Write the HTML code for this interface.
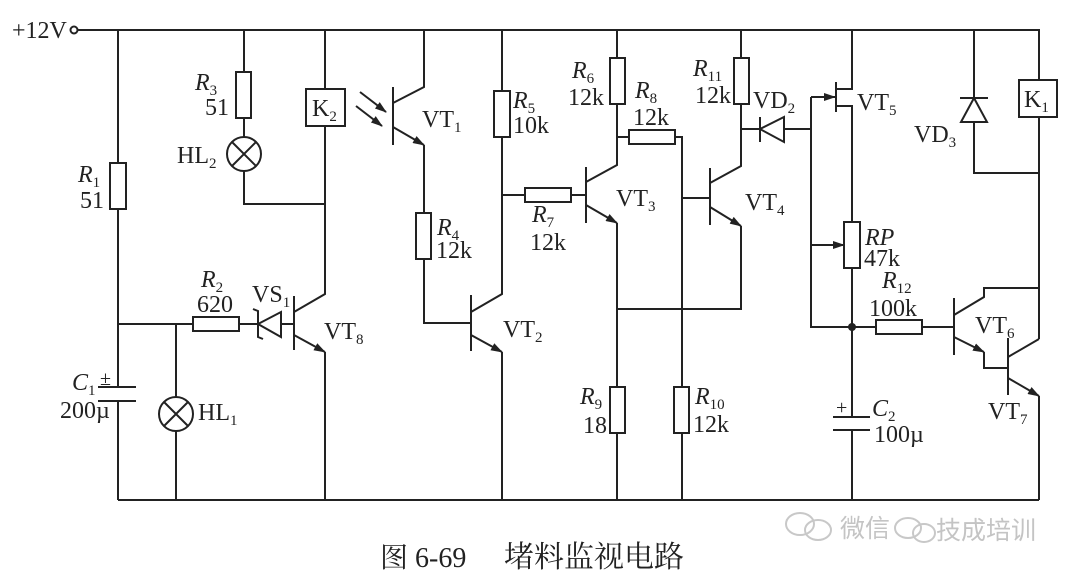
<!DOCTYPE html>
<html><head><meta charset="utf-8"><style>
html,body{margin:0;padding:0;background:#fff}
svg{display:block}
text{font-family:"Liberation Serif","Noto Serif CJK SC",serif;font-size:24px;fill:#222}
.s{font-size:15px}
.cn{font-family:"Liberation Serif","Noto Serif CJK SC","Noto Sans CJK SC",serif;font-size:28px}
.wm{font-family:"Liberation Sans","Noto Sans CJK SC",sans-serif;font-size:25px;fill:#c4c4c4}
</style></head><body>
<svg width="1080" height="574" viewBox="0 0 1080 574" xmlns="http://www.w3.org/2000/svg">
<defs>
<marker id="ar" markerWidth="12" markerHeight="8" refX="11" refY="4" orient="auto" markerUnits="userSpaceOnUse"><path d="M0,0 L12,4 L0,8 Z" fill="#222"/></marker>
</defs>
<g stroke="#222" stroke-width="2" fill="none">
<!-- rails -->
<circle cx="74" cy="30" r="3.5"/>
<path d="M78,30 H1039 V80"/>
<path d="M118,500 H1039"/>
<!-- left column -->
<path d="M118,30 V163 M118,209 V387 M118,401 V500"/>
<rect x="110" y="163" width="16" height="46"/>
<path d="M98,387 H136 M98,401 H136"/>
<!-- R2 / HL1 / VS1 -->
<path d="M118,324 H193 M239,324 H258 M281,324 H294"/>
<rect x="193" y="317" width="46" height="14"/>
<path d="M176,324 V397 M176,431 V500"/>
<circle cx="176" cy="414" r="17"/>
<path d="M164,402 L188,426 M188,402 L164,426"/>
<path d="M281,312 V337 L258,324 Z"/>
<path d="M253,309 L258,311 V337 L263,339"/>
<!-- VT8 -->
<path d="M294,296 V350"/>
<path d="M294,312 L325,294 V126"/>
<path d="M294,335 L325,352" marker-end="url(#ar)"/>
<path d="M325,352 V500"/>
<rect x="306" y="89" width="39" height="37"/>
<path d="M325,30 V89"/>
<!-- R3 / HL2 -->
<path d="M244,30 V72 M244,118 V137 M244,171 V204 H325"/>
<rect x="236" y="72" width="15" height="46"/>
<circle cx="244" cy="154" r="17"/>
<path d="M232,142 L256,166 M256,142 L232,166"/>
<!-- VT1 -->
<path d="M393,87 V145"/>
<path d="M393,103 L424,87 V30"/>
<path d="M393,127 L424,145" marker-end="url(#ar)"/>
<path d="M424,145 V213 M424,259 V323 H471"/>
<rect x="416" y="213" width="15" height="46"/>
<path d="M360,92 L386,112" marker-end="url(#ar)"/>
<path d="M356,106 L382,126" marker-end="url(#ar)"/>
<!-- VT2 / R5 -->
<path d="M471,295 V351"/>
<path d="M471,312 L502,294 V137 M502,91 V30"/>
<path d="M471,335 L502,352" marker-end="url(#ar)"/>
<path d="M502,352 V500"/>
<rect x="494" y="91" width="16" height="46"/>
<path d="M502,195 H525 M571,195 H586"/>
<rect x="525" y="188" width="46" height="14"/>
<!-- VT3 -->
<path d="M586,167 V223"/>
<path d="M586,182 L617,165 V104 M617,58 V30"/>
<path d="M586,205 L617,223" marker-end="url(#ar)"/>
<path d="M617,223 V387 M617,433 V500"/>
<rect x="610" y="58" width="15" height="46"/>
<rect x="610" y="387" width="15" height="46"/>
<path d="M617,137 H629 M675,137 H682 V387 M682,433 V500"/>
<rect x="629" y="130" width="46" height="14"/>
<rect x="674" y="387" width="15" height="46"/>
<path d="M682,198 H710"/>
<!-- VT4 -->
<path d="M710,168 V225"/>
<path d="M710,183 L741,166 V104 M741,58 V30"/>
<path d="M710,207 L741,226" marker-end="url(#ar)"/>
<path d="M741,226 V309 H617"/>
<rect x="734" y="58" width="15" height="46"/>
<!-- VD2 -->
<path d="M741,129 H760 M784,129 H811"/>
<path d="M784,117 V142 L760,129 Z"/>
<path d="M760,117 V142"/>
<!-- VT5 -->
<path d="M811,97 V327 H876 M922,327 H953"/>
<path d="M811,97 H835" marker-end="url(#ar)"/>
<path d="M836,82 V112"/>
<path d="M836,89 H852 V30 M836,106 H852 V222"/>
<rect x="844" y="222" width="16" height="46"/>
<path d="M811,245 H844" marker-end="url(#ar)"/>
<path d="M852,268 V417 M852,430 V500"/>
<path d="M833,417 H870 M833,430 H870"/>
<rect x="876" y="320" width="46" height="14"/>
<!-- VD3 / K1 -->
<path d="M974,30 V98 M974,122 V173 H1039"/>
<path d="M974,98 L961,122 H987 Z"/>
<path d="M960,98 H988"/>
<rect x="1019" y="80" width="38" height="37"/>
<path d="M1039,117 V339"/>
<!-- VT6/VT7 -->
<path d="M954,298 V355"/>
<path d="M954,315 L984,297 V288 H1039"/>
<path d="M954,337 L984,352" marker-end="url(#ar)"/>
<path d="M984,352 V368 H1008"/>
<path d="M1008,338 V395"/>
<path d="M1008,357 L1039,339"/>
<path d="M1008,378 L1039,396" marker-end="url(#ar)"/>
<path d="M1039,396 V500"/>
</g>
<circle cx="852" cy="327" r="4" fill="#222"/>
<!-- labels -->
<text x="12" y="38">+12V</text>
<text x="78" y="182"><tspan font-style="italic">R</tspan><tspan class="s" dy="5">1</tspan></text>
<text x="80" y="208">51</text>
<text x="195" y="90"><tspan font-style="italic">R</tspan><tspan class="s" dy="5">3</tspan></text>
<text x="205" y="115">51</text>
<text x="177" y="163">HL<tspan class="s" dy="5">2</tspan></text>
<text x="312" y="116">K<tspan class="s" dy="5">2</tspan></text>
<text x="422" y="127">VT<tspan class="s" dy="5">1</tspan></text>
<text x="437" y="235"><tspan font-style="italic">R</tspan><tspan class="s" dy="5">4</tspan></text>
<text x="436" y="258">12k</text>
<text x="513" y="108"><tspan font-style="italic">R</tspan><tspan class="s" dy="5">5</tspan></text>
<text x="513" y="133">10k</text>
<text x="201" y="287"><tspan font-style="italic">R</tspan><tspan class="s" dy="5">2</tspan></text>
<text x="197" y="312">620</text>
<text x="252" y="302">VS<tspan class="s" dy="5">1</tspan></text>
<text x="324" y="339">VT<tspan class="s" dy="5">8</tspan></text>
<text x="198" y="420">HL<tspan class="s" dy="5">1</tspan></text>
<text x="72" y="390"><tspan font-style="italic">C</tspan><tspan class="s" dy="5">1</tspan></text>
<text x="100" y="385" style="font-size:20px">±</text>
<text x="60" y="418">200µ</text>
<text x="503" y="337">VT<tspan class="s" dy="5">2</tspan></text>
<text x="572" y="78"><tspan font-style="italic">R</tspan><tspan class="s" dy="5">6</tspan></text>
<text x="568" y="105">12k</text>
<text x="635" y="98"><tspan font-style="italic">R</tspan><tspan class="s" dy="5">8</tspan></text>
<text x="633" y="125">12k</text>
<text x="532" y="222"><tspan font-style="italic">R</tspan><tspan class="s" dy="5">7</tspan></text>
<text x="530" y="250">12k</text>
<text x="616" y="206">VT<tspan class="s" dy="5">3</tspan></text>
<text x="693" y="76"><tspan font-style="italic">R</tspan><tspan class="s" dy="5">11</tspan></text>
<text x="695" y="103">12k</text>
<text x="753" y="108">VD<tspan class="s" dy="5">2</tspan></text>
<text x="745" y="210">VT<tspan class="s" dy="5">4</tspan></text>
<text x="857" y="110">VT<tspan class="s" dy="5">5</tspan></text>
<text x="914" y="142">VD<tspan class="s" dy="5">3</tspan></text>
<text x="1024" y="107">K<tspan class="s" dy="5">1</tspan></text>
<text x="865" y="245" font-style="italic">RP</text>
<text x="864" y="266">47k</text>
<text x="882" y="288"><tspan font-style="italic">R</tspan><tspan class="s" dy="5">12</tspan></text>
<text x="869" y="316">100k</text>
<text x="975" y="333">VT<tspan class="s" dy="5">6</tspan></text>
<text x="988" y="419">VT<tspan class="s" dy="5">7</tspan></text>
<text x="580" y="404"><tspan font-style="italic">R</tspan><tspan class="s" dy="5">9</tspan></text>
<text x="583" y="433">18</text>
<text x="695" y="404"><tspan font-style="italic">R</tspan><tspan class="s" dy="5">10</tspan></text>
<text x="693" y="432">12k</text>
<text x="836" y="414" style="font-size:20px">+</text>
<text x="872" y="416"><tspan font-style="italic">C</tspan><tspan class="s" dy="5">2</tspan></text>
<text x="874" y="442">100µ</text>
<text class="cn" x="380" y="567">图 6-69</text>
<text class="cn" x="504" y="567" style="font-size:30px">堵料监视电路</text>
<g stroke="#c8c8c8" stroke-width="2" fill="none">
<ellipse cx="800" cy="524" rx="14" ry="11"/><ellipse cx="818" cy="530" rx="13" ry="10"/>
<ellipse cx="908" cy="528" rx="13" ry="10"/><ellipse cx="924" cy="533" rx="11" ry="9"/>
</g>
<text class="wm" x="840" y="537">微信</text>
<text class="wm" x="936" y="539">技成培训</text>
</svg>
</body></html>
